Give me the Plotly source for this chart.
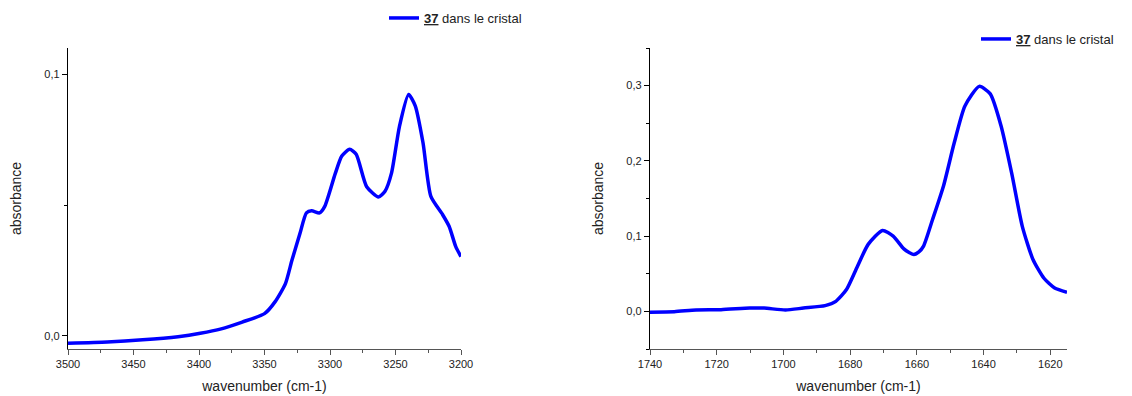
import plotly.graph_objects as go

# Left panel: N-H region
wn_left = [3500, 3470, 3443, 3416, 3399, 3383, 3367, 3350, 3342, 3334, 3329, 3323,
           3318, 3314, 3308, 3304, 3296, 3291, 3285, 3280, 3272, 3263, 3258, 3253,
           3247, 3240, 3235, 3229, 3223, 3214, 3209, 3204, 3200]
abs_left = [-0.0028, -0.0023, -0.0015, -0.0003, 0.0010, 0.0027, 0.0053, 0.0085, 0.0130,
            0.0200, 0.0290, 0.0390, 0.0470, 0.0478, 0.0470, 0.0495, 0.0620, 0.0687,
            0.0713, 0.0694, 0.0570, 0.0531, 0.0553, 0.0623, 0.0800, 0.0922, 0.0880,
            0.0738, 0.0533, 0.0463, 0.0418, 0.0341, 0.0303]

# Right panel: amide I region
wn_right = [1740, 1732.7, 1726.2, 1718.7, 1710.1, 1705.8, 1699.4, 1694, 1687.5, 1684.3,
            1681.1, 1677.8, 1674.6, 1670.3, 1667.1, 1663.9, 1662.2, 1660.9, 1659.4, 1658, 1655.3, 1652,
            1648.8, 1645.6, 1641.3, 1638, 1634.8, 1631.6, 1628.4, 1625.2, 1621.9, 1618.7, 1615]
abs_right = [-0.0010, -0.0004, 0.0018, 0.0022, 0.0044, 0.0044, 0.0018, 0.0044, 0.0076, 0.0133,
             0.0290, 0.0600, 0.0890, 0.1076, 0.1000, 0.0830, 0.0780, 0.0756, 0.0790, 0.0867, 0.1220, 0.1670,
             0.2240, 0.2730, 0.2990, 0.2890, 0.2470, 0.1840, 0.1130, 0.0690, 0.0440, 0.0310, 0.0253]

series_name = "<b><u>37</u></b> dans le cristal"
x_title = "wavenumber (cm-1)"
y_title = "absorbance"

W, H = 1132, 396
FONT = "Liberation Sans, Arial, Helvetica, sans-serif"
BLUE = "#0000FF"

fig = go.Figure()
fig.add_trace(go.Scatter(x=wn_left, y=abs_left, mode="lines", name=series_name, showlegend=True,
                         line=dict(color=BLUE, width=3.5, shape="spline", smoothing=0.6),
                         xaxis="x", yaxis="y", legend="legend"))
fig.add_trace(go.Scatter(x=wn_right, y=abs_right, mode="lines", name=series_name, showlegend=True,
                         line=dict(color=BLUE, width=3.5, shape="spline", smoothing=0.6),
                         xaxis="x2", yaxis="y2", legend="legend2"))

def px_x(p):
    return p / W

def px_y(p):
    return 1 - p / H

tickfont = dict(family=FONT, size=11, color="#222")
titlefont = dict(family=FONT, size=14, color="#222")

common_x = dict(showgrid=False, zeroline=False, showline=True, linecolor="#555", linewidth=1.3,
                ticks="outside", ticklen=5, tickwidth=1.3, tickcolor="#555", automargin=False,
                tickfont=tickfont, title=dict(text=x_title, font=titlefont, standoff=11))
common_y = dict(showgrid=False, zeroline=False, showline=True, linecolor="#000", linewidth=1.3,
                ticks="outside", ticklen=5, tickwidth=1.3, tickcolor="#000", automargin=False,
                tickfont=tickfont, tickformat=".1f", title=dict(text=y_title, font=titlefont, standoff=19))

fig.update_layout(
    width=W, height=H,
    showlegend=True,
    paper_bgcolor="white", plot_bgcolor="white",
    separators=",.",
    margin=dict(l=0, r=0, t=0, b=0),
    font=dict(family=FONT, size=12, color="#222"),
    xaxis=dict(common_x, domain=[px_x(68), px_x(461)], range=[3500, 3200],
               tickmode="linear", tick0=3500, dtick=50, anchor="y",
               minor=dict(dtick=25, ticks="outside", ticklen=3, tickcolor="#555", tickwidth=1.2)),
    yaxis=dict(common_y, domain=[px_y(349), px_y(48)], range=[-0.005, 0.110],
               tickmode="linear", tick0=0, dtick=0.1, anchor="x",
               minor=dict(dtick=0.05, ticks="outside", ticklen=3, tickcolor="#000", tickwidth=1.2)),
    xaxis2=dict(common_x, domain=[px_x(650), px_x(1067)], range=[1740, 1615],
                tickmode="linear", tick0=1740, dtick=20, anchor="y2",
                minor=dict(dtick=10, ticks="outside", ticklen=3, tickcolor="#555", tickwidth=1.2)),
    yaxis2=dict(common_y, domain=[px_y(349), px_y(48)], range=[-0.05, 0.35],
                tickmode="linear", tick0=0, dtick=0.1, anchor="x2",
                minor=dict(dtick=0.05, ticks="outside", ticklen=3, tickcolor="#000", tickwidth=1.2)),
    legend=dict(x=px_x(384), y=px_y(18), xanchor="left", yanchor="middle", visible=True,
                bgcolor="rgba(0,0,0,0)", font=dict(family=FONT, size=13, color="#222")),
    legend2=dict(x=px_x(976), y=px_y(39), xanchor="left", yanchor="middle", visible=True,
                 bgcolor="rgba(0,0,0,0)", font=dict(family=FONT, size=13, color="#222")),
)

fig.write_html("out.html", config={"displayModeBar": False},
               post_script="document.body.style.margin='0';")
